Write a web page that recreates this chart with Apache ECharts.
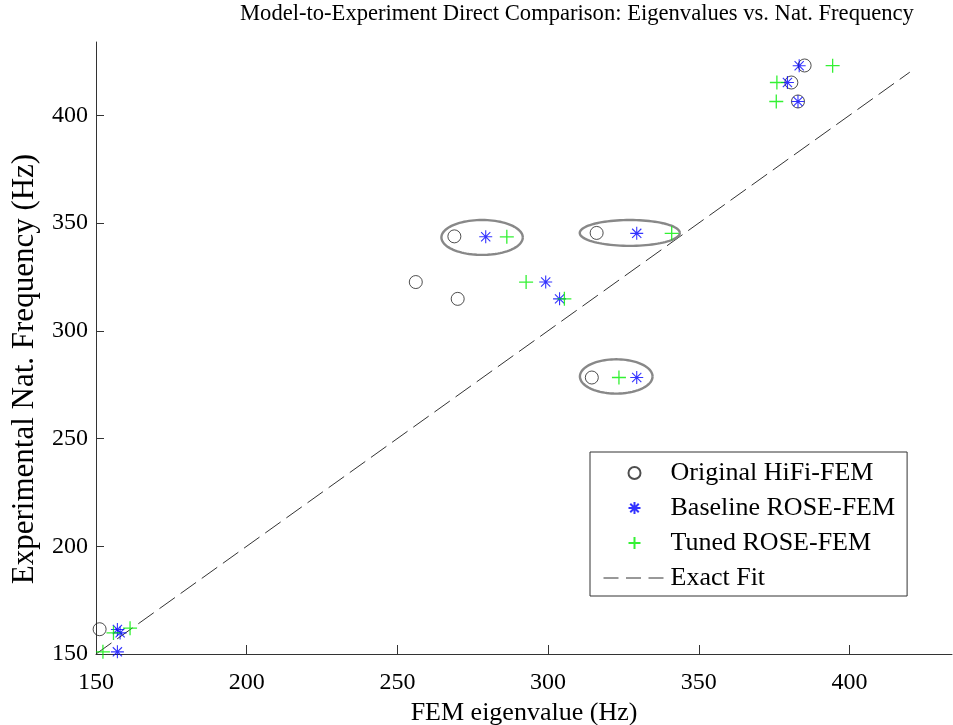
<!DOCTYPE html>
<html>
<head>
<meta charset="utf-8">
<script src="https://cdn.jsdelivr.net/npm/echarts@6/dist/echarts.min.js"></script>
<style>
html,body{margin:0;padding:0;background:#fff;overflow:hidden;}
#chart{width:953px;height:725px;}
</style>
</head>
<body>
<div id="chart"></div>
<script>
// ---- data (x = FEM eigenvalue Hz, y = experimental natural frequency Hz) ----
const originalHiFi = [
  [151.2, 161.5], [256.1, 322.6], [270.0, 314.8], [268.9, 343.8], [316.1, 345.4],
  [314.5, 278.3], [385.1, 423.1], [380.7, 415.2], [382.9, 406.4]
];
const baselineROSE = [
  [157.1, 151.0], [157.1, 161.4], [158.0, 159.8], [329.4, 278.3], [303.8, 314.8],
  [299.2, 322.6], [279.3, 343.6], [329.4, 345.2], [382.9, 406.4], [379.4, 415.2], [383.3, 423.0]
];
const tunedROSE = [
  [152.3, 151.0], [155.8, 159.8], [161.3, 162.0], [323.5, 278.3], [305.4, 314.8],
  [292.7, 322.6], [286.3, 343.6], [341.0, 345.2], [375.7, 406.4], [375.9, 415.2], [394.4, 423.0]
];
const exactFit = [[150, 150], [420, 420]];
// highlighted groups: [centerX, centerY, radiusX, radiusY] in data units
const highlightEllipses = [
  [278.1, 343.3, 13.5, 8.1],
  [327.1, 345.4, 16.6, 6.0],
  [322.6, 278.8, 12.05, 7.95]
];
const xTicks = [150, 200, 250, 300, 350, 400];
const yTicks = [150, 200, 250, 300, 350, 400];
const seriesNames = ['Original HiFi-FEM', 'Baseline ROSE-FEM', 'Tuned ROSE-FEM', 'Exact Fit'];

const FONT = '"Liberation Serif", "Times New Roman", serif';
const PLUS = 'path://M0,5L10,5M5,0L5,10';
const STAR = 'path://M0,5L10,5M5,0L5,10M1.46,1.46L8.54,8.54M8.54,1.46L1.46,8.54';

const chart = echarts.init(document.getElementById('chart'), null, {renderer: 'canvas'});

const option = {
  animation: false,
  backgroundColor: '#fff',
  title: {
    text: 'Model-to-Experiment Direct Comparison: Eigenvalues vs. Nat. Frequency',
    left: 240, top: 3, padding: 0,
    textStyle: {fontFamily: FONT, fontSize: 22.6, fontWeight: 'normal', color: '#000'}
  },
  grid: {left: 96, right: 1, top: 42, bottom: 71, containLabel: false, outerBoundsMode: 'none'},
  legend: {
    orient: 'vertical',
    left: 590, top: 452,
    padding: [8, 12, 5, 13],
    itemGap: 9,
    itemWidth: 62,
    itemHeight: 12,
    backgroundColor: '#fff',
    borderColor: '#333',
    borderWidth: 1,
    textStyle: {fontFamily: FONT, fontSize: 26, color: '#000', lineHeight: 26},
    data: [
      {name: seriesNames[0]},
      {name: seriesNames[1]},
      {name: seriesNames[2]},
      {name: seriesNames[3], itemStyle: {opacity: 0},
        lineStyle: {type: [15, 7.5], color: '#333', width: 1}}
    ]
  },
  xAxis: {
    type: 'value', min: 150, max: 434, interval: 50,
    name: 'FEM eigenvalue (Hz)', nameLocation: 'middle', nameGap: 32,
    nameTextStyle: {fontFamily: FONT, fontSize: 26, color: '#000'},
    axisLine: {show: true, lineStyle: {color: '#333', width: 1}},
    axisTick: {show: true, inside: true, length: 9, lineStyle: {color: '#333'}, customValues: xTicks},
    axisLabel: {fontFamily: FONT, fontSize: 24, color: '#000', margin: 17, customValues: xTicks},
    splitLine: {show: false}
  },
  yAxis: {
    type: 'value', min: 150, max: 434, interval: 50,
    name: 'Experimental Nat. Frequency (Hz)', nameLocation: 'middle', nameGap: 56,
    nameRotate: 90,
    nameTextStyle: {fontFamily: FONT, fontSize: 31, color: '#000', padding: [0, 42, 0, 0]},
    axisLine: {show: true, lineStyle: {color: '#333', width: 1}},
    axisTick: {show: true, inside: true, length: 8, lineStyle: {color: '#333'}, customValues: yTicks},
    axisLabel: {fontFamily: FONT, fontSize: 24, color: '#000', margin: 8, customValues: yTicks},
    splitLine: {show: false}
  },
  series: [
    {
      name: seriesNames[3], type: 'line', data: exactFit, symbol: 'none', z: 1,
      lineStyle: {color: '#333', width: 1, type: [19, 7]}
    },
    {
      name: 'highlight', type: 'custom', data: highlightEllipses, z: 2, silent: true,
      encode: {x: 0, y: 1},
      renderItem: function (params, api) {
        const c = api.coord([api.value(0), api.value(1)]);
        const s = api.size([api.value(2), api.value(3)]);
        const pts = [];
        for (let i = 0; i <= 96; i++) {
          const a = i / 96 * Math.PI * 2;
          pts.push([c[0] + s[0] * Math.cos(a), c[1] + s[1] * Math.sin(a)]);
        }
        return {type: 'polyline', shape: {points: pts},
          style: {stroke: '#888', lineWidth: 2.4, fill: null}};
      }
    },
    {
      name: seriesNames[0], type: 'scatter', data: originalHiFi, z: 3,
      symbol: 'circle', symbolSize: 13,
      itemStyle: {color: 'rgba(0,0,0,0)', borderColor: '#222', borderWidth: 1}
    },
    {
      name: seriesNames[1], type: 'scatter', data: baselineROSE, z: 4,
      symbol: STAR, symbolSize: 13,
      itemStyle: {color: 'rgba(0,0,0,0)', borderColor: '#0000ff', borderWidth: 1.1}
    },
    {
      name: seriesNames[2], type: 'scatter', data: tunedROSE, z: 5,
      symbol: PLUS, symbolSize: 14,
      itemStyle: {color: 'rgba(0,0,0,0)', borderColor: '#00ee00', borderWidth: 1.3}
    }
  ]
};
chart.setOption(option);
</script>
</body>
</html>
